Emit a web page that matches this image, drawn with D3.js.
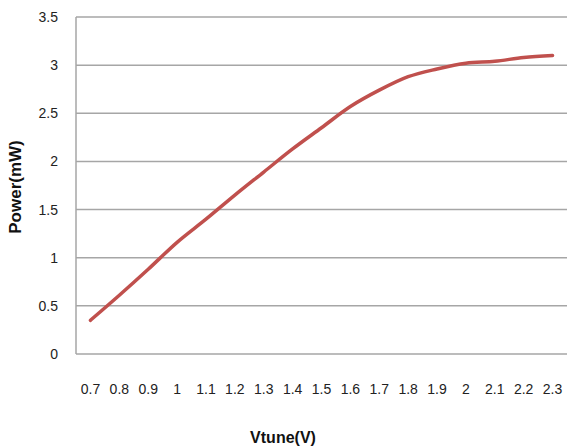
<!DOCTYPE html>
<html><head><meta charset="utf-8">
<script src="https://cdn.jsdelivr.net/npm/d3@7"></script>
<style>body{margin:0;background:#fff}svg{display:block}</style>
</head><body>
<script>
const categories = ["0.7","0.8","0.9","1","1.1","1.2","1.3","1.4","1.5","1.6","1.7","1.8","1.9","2","2.1","2.2","2.3"];
const powerValues = [0.35,0.61,0.88,1.16,1.40,1.65,1.89,2.13,2.35,2.57,2.74,2.88,2.96,3.02,3.04,3.08,3.10];
const yTicks = [0,0.5,1,1.5,2,2.5,3,3.5];
const xTitle = "Vtune(V)";
const yTitle = "Power(mW)";

const W=567,H=448;
const m={left:76,right:0,top:17,bottom:94};
const svg=d3.select("body").append("svg").attr("width",W).attr("height",H);
const font="'Liberation Sans Narrow','Liberation Sans',Arial,sans-serif";
const x=d3.scaleBand().domain(categories).range([m.left,W-m.right]);
const y=d3.scaleLinear().domain([0,3.5]).range([H-m.bottom,m.top]);

svg.append("g").selectAll("line").data(yTicks).join("line")
 .attr("x1",m.left).attr("x2",W).attr("y1",d=>y(d)).attr("y2",d=>y(d))
 .attr("stroke","#a6a6a6").attr("stroke-width",1.5);
svg.append("line").attr("x1",m.left).attr("x2",m.left).attr("y1",y(3.5)).attr("y2",y(0))
 .attr("stroke","#a6a6a6").attr("stroke-width",1.5);

const yAxis=d3.axisLeft(y).tickValues(yTicks).tickSize(0).tickPadding(18).tickFormat(d3.format("~g"));
svg.append("g").attr("transform",`translate(${m.left},0)`).call(yAxis)
 .call(g=>g.select(".domain").remove())
 .selectAll("text").attr("font-family",font).attr("font-size",14).attr("fill","#222");

const xAxis=d3.axisBottom(x).tickSize(0).tickPadding(0);
svg.append("g").attr("transform",`translate(0,${y(0)+30})`).call(xAxis)
 .call(g=>g.select(".domain").remove())
 .selectAll("text").attr("font-family",font).attr("font-size",14).attr("fill","#222");

const line=d3.line().x((d,i)=>x(categories[i])+x.bandwidth()/2).y(d=>y(d)).curve(d3.curveMonotoneX);
svg.append("path").datum(powerValues).attr("d",line).attr("fill","none")
 .attr("stroke","#c0504d").attr("stroke-width",3.5).attr("stroke-linecap","round");

svg.append("text").attr("x",283).attr("y",443).attr("text-anchor","middle")
 .attr("font-family",font).attr("font-weight","bold").attr("font-size",16).attr("fill","#111").text(xTitle);
svg.append("text").attr("transform",`translate(21,187) rotate(-90)`).attr("text-anchor","middle")
 .attr("font-family",font).attr("font-weight","bold").attr("font-size",17).attr("fill","#111").text(yTitle);
</script>
</body></html>
